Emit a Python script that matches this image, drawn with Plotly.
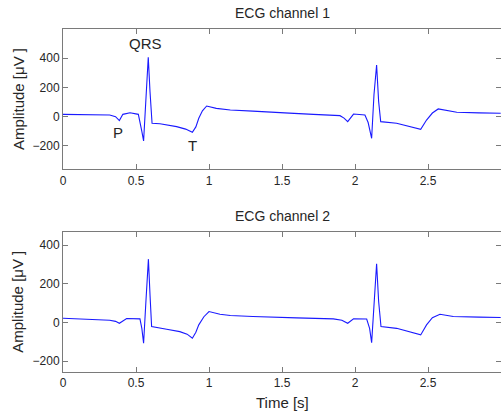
import plotly.graph_objects as go

# Channel 1 (time in s, amplitude in µV)
t1 = [0.0, 0.10, 0.20, 0.32, 0.36, 0.386, 0.41, 0.459, 0.516, 0.527, 0.540, 0.552,
      0.566, 0.584, 0.596, 0.610, 0.664, 0.720, 0.778, 0.840, 0.886, 0.910, 0.930,
      0.955, 0.984, 1.05, 1.146, 1.30, 1.418, 1.55, 1.715, 1.897, 1.925, 1.95, 1.99,
      2.068, 2.09, 2.114, 2.130, 2.148, 2.162, 2.176, 2.285, 2.377, 2.45, 2.49, 2.53,
      2.57, 2.62, 2.697, 2.85, 2.998]
v1 = [16, 15, 14, 12, 0, -27, 16, 27, 16, -30, -100, -166,
      120, 407, 171, -45, -48, -56, -68, -85, -107, -70, -11,
      40, 73, 57, 46, 38, 30, 24, 16, 7, -10, -34, 18,
      12, -40, -148, 150, 354, 103, -34, -45, -68, -87, -23, 25,
      53, 42, 30, 26, 23]

# Channel 2
t2 = [0.0, 0.10, 0.20, 0.32, 0.36, 0.386, 0.436, 0.527, 0.540, 0.552,
      0.568, 0.585, 0.596, 0.607, 0.710, 0.800, 0.850, 0.886, 0.910, 0.930,
      0.965, 1.0, 1.075, 1.146, 1.30, 1.418, 1.60, 1.852, 1.91, 1.95, 1.99,
      2.08, 2.10, 2.114, 2.130, 2.148, 2.162, 2.178, 2.285, 2.377, 2.45, 2.49,
      2.53, 2.582, 2.673, 2.85, 2.998]
v2 = [22, 20, 17, 12, 6, -4, 21, 19, -30, -107,
      110, 328, 143, -21, -35, -47, -60, -81, -50, -12,
      30, 57, 43, 36, 31, 27, 24, 19, 12, -4, 19,
      18, -30, -104, 100, 304, 109, -21, -30, -47, -64, -12,
      25, 43, 31, 28, 26]

titles = ["ECG channel 1", "ECG channel 2"]
xticks = [0, 0.5, 1, 1.5, 2, 2.5]
xticklabels = ["0", "0.5", "1", "1.5", "2", "2.5"]
yticks = [-200, 0, 200, 400]
ylabel = "Amplitude [\u03bcV ]"
xlabel = "Time [s]"

FONT = "Liberation Sans, Arial, sans-serif"
TXT = "#262626"
LINE = "#7a7a7a"
BLUE = "#1a1aff"

fig = go.Figure()
fig.add_trace(go.Scatter(x=t1, y=v1, mode="lines", line=dict(color=BLUE, width=1.1),
                         xaxis="x", yaxis="y", showlegend=False))
fig.add_trace(go.Scatter(x=t2, y=v2, mode="lines", line=dict(color=BLUE, width=1.1),
                         xaxis="x2", yaxis="y2", showlegend=False))

common_x = dict(range=[0, 3], tickvals=xticks, ticktext=xticklabels, ticks="inside",
                ticklen=5, tickcolor=LINE, showline=True, linecolor=LINE, linewidth=1,
                mirror="ticks", showgrid=False, zeroline=False,
                tickfont=dict(family=FONT, size=12, color=TXT))
common_y = dict(tickvals=yticks, ticks="inside", ticklen=5, tickcolor=LINE,
                showline=True, linecolor=LINE, linewidth=1, mirror="ticks",
                showgrid=False, zeroline=False,
                tickfont=dict(family=FONT, size=12, color=TXT))

fig.update_layout(
    width=501, height=412,
    margin=dict(l=63, r=0, t=29, b=40),
    paper_bgcolor="white", plot_bgcolor="white",
    xaxis=dict(common_x, domain=[0, 1], anchor="y"),
    yaxis=dict(common_y, domain=[0.591, 1.0], range=[-360, 600], anchor="x"),
    xaxis2=dict(common_x, domain=[0, 1], anchor="y2"),
    yaxis2=dict(common_y, domain=[0.0, 0.409], range=[-256, 470], anchor="x2"),
)

C = dict(showarrow=False, xanchor="center", yanchor="middle")
# panel titles
fig.add_annotation(text=titles[0], xref="paper", yref="paper", x=0.5, y=1.0, yshift=16,
                   font=dict(family=FONT, size=14, color=TXT), **C)
fig.add_annotation(text=titles[1], xref="paper", yref="paper", x=0.5, y=0.409, yshift=16,
                   font=dict(family=FONT, size=14, color=TXT), **C)
# axis labels
for yc in [(1.0 + 0.591) / 2, 0.409 / 2]:
    fig.add_annotation(text=ylabel, xref="paper", yref="paper", x=-0.103, y=yc,
                       textangle=-90, font=dict(family=FONT, size=15, color=TXT), **C)
fig.add_annotation(text=xlabel, xref="paper", yref="paper", x=0.5, y=-0.0875,
                   font=dict(family=FONT, size=15, color=TXT), **C)
# wave labels
for lab, tx, vy in [("QRS", 0.567, 503), ("P", 0.379, -107), ("T", 0.886, -199)]:
    fig.add_annotation(text=lab, x=tx, y=vy, xref="x", yref="y",
                       font=dict(family=FONT, size=15, color=TXT), **C)

fig.write_html("out.html", config={"displayModeBar": False},
               post_script="document.body.style.margin='0';document.body.style.overflow='hidden';")
